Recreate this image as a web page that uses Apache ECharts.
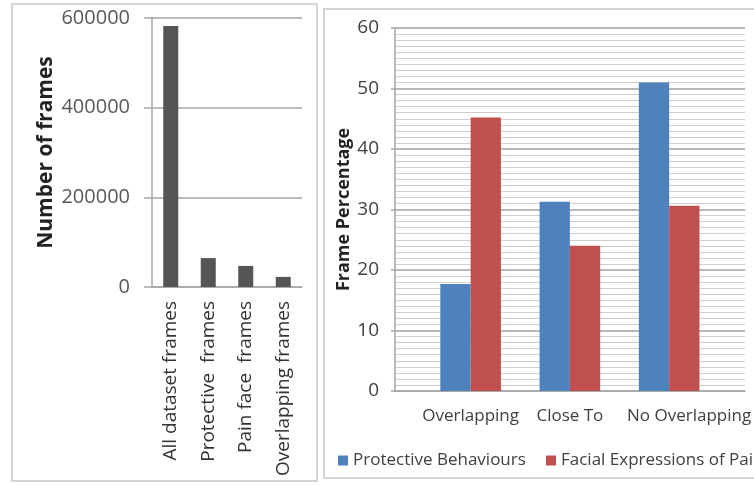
<!DOCTYPE html>
<html>
<head>
<meta charset="utf-8">
<script src="https://cdn.jsdelivr.net/npm/echarts@6/dist/echarts.min.js"></script>
<style>
html,body{margin:0;padding:0;background:#fff;}
#c{width:754px;height:485px;}
</style>
</head>
<body>
<div id="c"></div>
<script>
// Left chart data
var frameCategories = ['All dataset frames', 'Protective  frames', 'Pain face  frames', 'Overlapping frames'];
var frameCounts = [582000, 64500, 47000, 22500];
var frameTicks = [0, 200000, 400000, 600000];

// Right chart data
var relationCategories = ['Overlapping', 'Close To', 'No Overlapping'];
var protectiveValues = [17.7, 31.3, 51.0];
var facialValues = [45.2, 24.0, 30.6];
var seriesNames = ['Protective Behaviours', 'Facial Expressions of Pain'];
var percentTicks = [0, 10, 20, 30, 40, 50, 60];

var FONT = 'Open Sans';
var chart = echarts.init(document.getElementById('c'), null, {renderer: 'canvas'});

var legendCommon = {
  icon: 'rect',
  itemWidth: 10,
  itemHeight: 10,
  top: 447,
  textStyle: {fontFamily: FONT, fontSize: 17, color: '#404040'}
};

var option = {
  animation: false,
  backgroundColor: '#ffffff',
  textStyle: {fontFamily: FONT},
  graphic: [
    {type: 'rect', shape: {x: 12, y: 4, width: 305, height: 477}, style: {fill: 'none', stroke: '#c8c8c8', lineWidth: 1.5}, z: -10},
    {type: 'rect', shape: {x: 324, y: 9, width: 440, height: 469}, style: {fill: 'none', stroke: '#c8c8c8', lineWidth: 1.5}, z: -10}
  ],
  legend: [
    Object.assign({data: [seriesNames[0]], left: 333}, legendCommon),
    Object.assign({data: [seriesNames[1]], left: 541}, legendCommon)
  ],
  grid: [
    {left: 152, top: 18, width: 150, height: 269},
    {left: 395, top: 28, width: 350, height: 363},
    {left: 421, top: 28, width: 299, height: 363}
  ],
  xAxis: [
    {
      type: 'category', gridIndex: 0, data: frameCategories,
      axisLine: {lineStyle: {color: '#a6a6a6', width: 1.5}},
      axisTick: {show: false},
      axisLabel: {rotate: 90, interval: 0, margin: 14, fontFamily: FONT, fontSize: 19, color: '#333'}
    },
    {
      type: 'category', gridIndex: 1, data: [''],
      axisLine: {lineStyle: {color: '#a6a6a6', width: 1.5}},
      axisTick: {show: false},
      axisLabel: {show: false}
    },
    {
      type: 'category', gridIndex: 2,
      data: relationCategories.map(function (c, i) {
        return i === 2 ? {value: c, textStyle: {padding: [0, 0, 0, 40]}} : c;
      }),
      axisLine: {show: false},
      axisTick: {show: false},
      axisLabel: {interval: 0, margin: 17, fontFamily: FONT, fontSize: 17, color: '#404040'}
    }
  ],
  yAxis: [
    {
      type: 'value', gridIndex: 0, min: frameTicks[0], max: frameTicks[frameTicks.length - 1], interval: 200000,
      name: 'Number of frames', nameLocation: 'middle', nameGap: 95,
      nameTextStyle: {fontFamily: FONT, fontSize: 21, fontWeight: 'bold', color: '#222'},
      axisLine: {show: true, lineStyle: {color: '#a6a6a6', width: 1.5}},
      axisTick: {show: true, length: 8, lineStyle: {color: '#a6a6a6', width: 1.5}},
      axisLabel: {margin: 22, fontFamily: FONT, fontSize: 20, color: '#595959', formatter: function (v) { return String(v); }},
      splitLine: {lineStyle: {color: '#a6a6a6', width: 1.5}}
    },
    {
      type: 'value', gridIndex: 1, min: percentTicks[0], max: percentTicks[percentTicks.length - 1], interval: 10,
      name: 'Frame Percentage', nameLocation: 'middle', nameGap: 41,
      nameTextStyle: {fontFamily: FONT, fontSize: 18, fontWeight: 'bold', color: '#222'},
      axisLine: {show: true, lineStyle: {color: '#a6a6a6', width: 1.5}},
      axisTick: {show: true, length: 4, lineStyle: {color: '#a6a6a6', width: 1.5}},
      axisLabel: {margin: 16, fontFamily: FONT, fontSize: 19, color: '#404040'},
      splitLine: {lineStyle: {color: '#a0a0a0', width: 1.5}},
      minorTick: {show: false, splitNumber: 10},
      minorSplitLine: {show: true, lineStyle: {color: '#cfcfcf', width: 1}}
    },
    {
      type: 'value', gridIndex: 2, min: 0, max: 60, show: false
    }
  ],
  series: [
    {
      type: 'bar', xAxisIndex: 0, yAxisIndex: 0, data: frameCounts,
      barWidth: 15, itemStyle: {color: '#555555'}
    },
    {
      name: seriesNames[0], type: 'bar', xAxisIndex: 2, yAxisIndex: 2, data: protectiveValues,
      barWidth: 30.3, barGap: '0%', itemStyle: {color: '#4f81bd'}
    },
    {
      name: seriesNames[1], type: 'bar', xAxisIndex: 2, yAxisIndex: 2, data: facialValues,
      barWidth: 30.3, barGap: '0%', itemStyle: {color: '#c0504d'}
    }
  ]
};
chart.setOption(option);
</script>
</body>
</html>
